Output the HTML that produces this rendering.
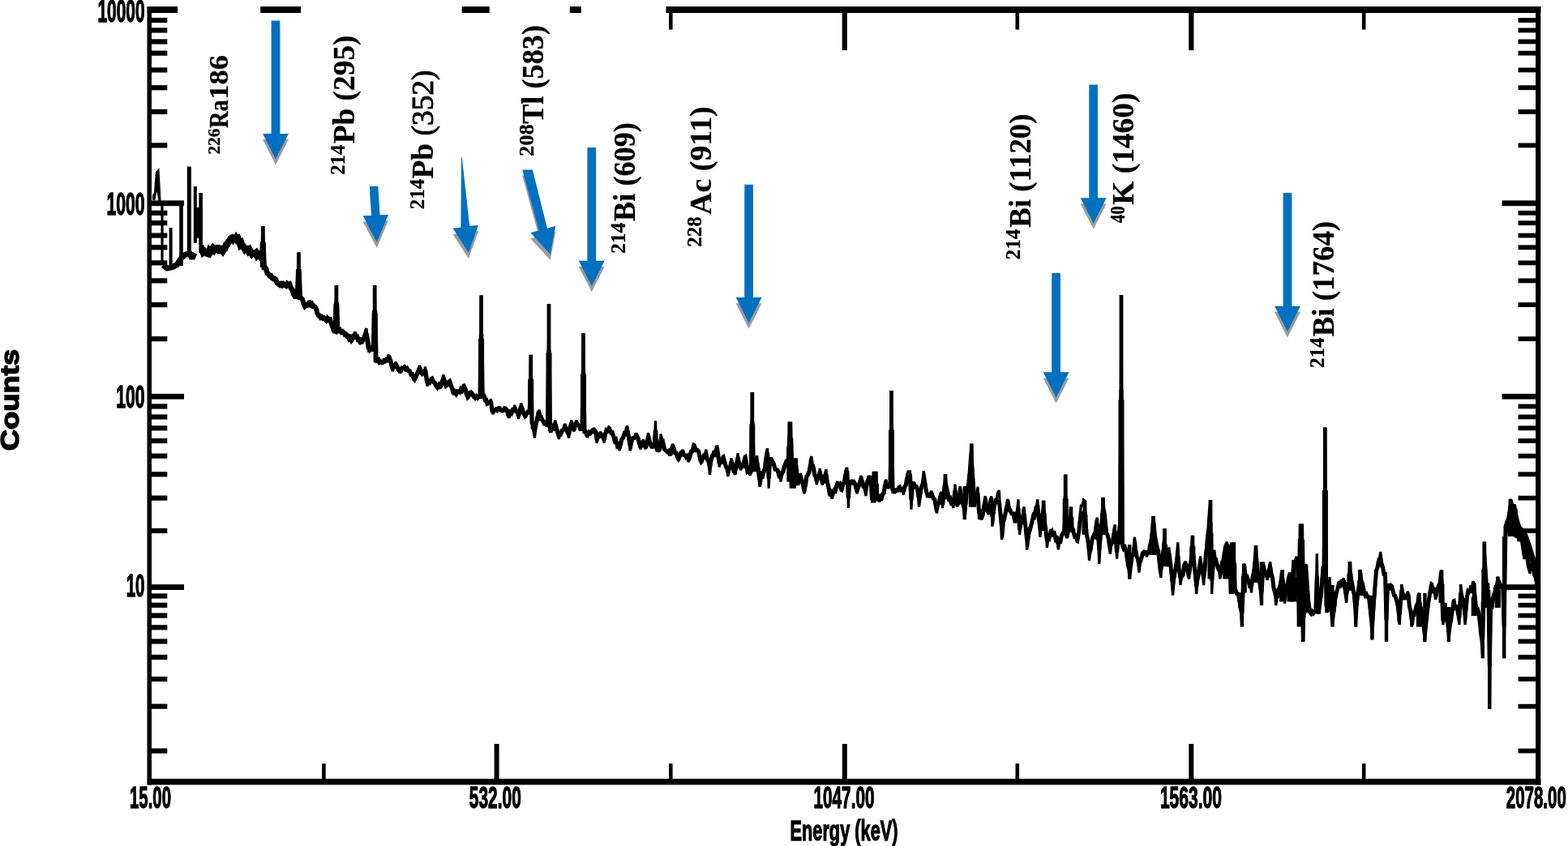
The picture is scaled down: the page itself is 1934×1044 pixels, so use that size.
<!DOCTYPE html>
<html lang="en"><head><meta charset="utf-8"><title>Gamma spectrum</title>
<style>html,body{margin:0;padding:0;background:#fff;overflow:hidden}svg{display:block}.s{font-family:"Liberation Serif",serif;font-weight:bold;fill:#000}.r{font-family:"Liberation Serif",serif;font-weight:normal;fill:#000}.a{font-family:"Liberation Sans",sans-serif;font-weight:bold;fill:#000}</style></head><body>
<svg width="1934" height="1044" viewBox="0 0 1934 1044">
<rect x="0" y="0" width="1934" height="1044" fill="#fff"/>
<g fill="none" stroke="#000" stroke-linejoin="miter" stroke-miterlimit="2" stroke-linecap="butt">
<path d="M200.0,251.0 L200.0,323.0" stroke-width="3.2"/>
<path d="M210.6,330.0 L210.6,281.0" stroke-width="4.0"/>
<path d="M223.5,251.0 L223.5,328.0" stroke-width="4.6"/>
<path d="M233.3,312.0 L233.3,205.5" stroke-width="5.0"/>
<path d="M240.8,300.0 L240.8,230.0" stroke-width="4.0"/>
<path d="M247.6,312.0 L247.6,238.0" stroke-width="4.6"/>
<path d="M201.0,327.0 L206.0,331.0 L212.0,330.0 L218.0,327.0 L224.0,318.0 L229.0,314.0 L234.0,313.0 L237.0,319.0 L240.0,312.0" stroke-width="7.0"/>
<path d="M248.0,309.0 L249.3,308.2 L250.7,311.9 L252.0,311.0 L253.3,313.3 L254.7,310.8 L256.0,313.0 L257.2,313.4 L258.5,309.3 L259.8,310.7 L261.0,309.0 L262.5,306.6 L264.0,308.5 L265.5,306.1 L267.0,306.0 L268.2,307.4 L269.5,306.9 L270.8,309.5 L272.0,309.5 L273.3,308.3 L274.7,310.0 L276.0,308.0 L277.5,306.8 L279.0,301.9 L280.5,301.2 L282.0,298.0 L283.3,297.3 L284.7,294.2 L286.0,293.5 L287.2,295.1 L288.5,292.6 L289.8,295.3 L291.0,293.5 L292.3,295.8 L293.7,294.7 L295.0,298.0 L296.3,301.8 L297.7,300.3 L299.0,304.0 L300.2,304.2 L301.5,306.6 L302.8,304.5 L304.0,307.0 L305.2,307.2 L306.5,309.7 L307.8,308.3 L309.0,310.5 L310.2,312.4 L311.5,310.3 L312.8,313.0 L314.0,313.0 L315.5,311.9 L317.0,315.2 L318.5,313.5 L320.0,315.0" stroke-width="8.2"/>
<path d="M318.0,314.8 L319.8,314.3 L321.5,316.0 L322.8,321.3 L324.3,298.4 L325.8,330.0 L326.6,330.0 L328.1,331.5 L329.5,337.0 L331.0,338.0 L332.6,340.3 L334.1,340.2 L335.7,343.0 L337.1,344.0 L338.6,343.7 L340.0,345.0 L341.8,349.1 L343.5,350.5 L345.0,351.6 L346.6,350.3 L348.1,352.0 L349.7,350.4 L351.2,351.7 L352.8,352.7 L354.3,350.2 L355.8,351.4 L357.4,351.1 L358.9,355.6 L360.5,357.4 L362.0,363.0 L363.3,365.0 L364.7,364.0 L366.0,365.9 L366.9,366.0 L368.4,332.2 L369.9,367.0 L370.8,367.0" stroke-width="6.4"/>
<path d="M318.0,314.0 L319.8,313.3 L321.5,316.0 L322.8,316.0 L324.3,279.0 L325.8,330.0 L326.6,330.0 L328.1,331.5 L329.5,337.0 L331.0,338.0 L332.6,340.5 L334.1,340.1 L335.7,343.0 L337.1,344.4 L338.6,343.4 L340.0,345.0 L341.8,349.1 L343.5,350.7 L345.0,352.4 L346.6,350.2 L348.1,352.8 L349.7,350.4 L351.2,352.3 L352.8,352.9 L354.3,348.9 L355.8,350.5 L357.4,349.0 L358.9,354.5 L360.5,357.4 L362.0,363.0 L363.3,365.7 L364.7,364.0 L366.0,366.0 L366.9,366.0 L368.4,311.5 L369.9,367.0 L370.8,367.0" stroke-width="3.6"/>
<path d="M370.8,367.0 L373.0,369.3 L374.5,374.4 L376.0,377.8 L377.6,376.0 L379.1,376.3 L380.7,373.8 L382.0,373.5 L383.3,376.0 L384.6,375.1 L385.9,377.8 L387.2,377.5 L388.5,378.6 L390.0,381.2 L391.5,386.8 L393.0,389.5 L394.3,389.6 L395.6,391.9 L396.9,391.4 L398.3,392.9 L399.6,392.3 L400.9,393.7 L402.4,395.3 L403.9,392.8 L405.5,394.6 L407.0,394.2 L408.6,399.3 L410.1,402.8 L411.7,407.4 L413.4,408.4 L414.9,373.3 L416.4,408.2 L418.0,408.6 L419.5,407.6 L421.0,409.9 L422.5,409.1 L424.0,410.6 L425.4,412.9 L426.7,412.6 L428.1,414.8 L429.4,414.7 L430.8,417.9 L432.1,416.7 L433.5,419.6 L435.0,417.6 L436.5,414.5 L438.0,413.5 L439.3,415.9 L440.5,415.8 L441.8,419.4 L443.0,419.5 L444.3,422.3 L445.5,419.9 L446.8,420.8 L448.0,418.7 L449.3,417.1 L450.5,413.1 L451.8,411.8 L453.2,419.6 L454.7,429.0 L456.0,431.3 L457.3,429.4 L458.6,430.0 L460.7,431.0 L462.2,382.8 L463.7,444.9 L465.6,445.5 L467.0,444.6 L468.3,446.9 L469.6,446.3" stroke-width="6.0"/>
<path d="M370.8,367.0 L373.0,369.3 L374.5,376.0 L376.0,380.0 L377.6,376.2 L379.1,376.5 L380.7,372.4 L382.0,371.9 L383.3,375.7 L384.6,374.1 L385.9,378.5 L387.2,376.8 L388.5,378.6 L390.0,381.2 L391.5,386.8 L393.0,389.5 L394.3,389.6 L395.6,392.4 L396.9,391.0 L398.3,393.3 L399.6,392.2 L400.9,394.0 L402.4,396.0 L403.9,392.1 L405.5,394.6 L407.0,394.0 L408.6,401.2 L410.1,403.8 L411.7,409.7 L413.4,409.7 L414.9,352.0 L416.4,408.0 L418.0,408.0 L419.5,406.3 L421.0,410.1 L422.5,408.5 L424.0,409.7 L425.4,413.3 L426.7,412.2 L428.1,415.8 L429.4,415.6 L430.8,420.6 L432.1,418.5 L433.5,422.0 L435.0,418.8 L436.5,412.1 L438.0,409.7 L439.3,413.5 L440.5,413.9 L441.8,419.8 L443.0,420.4 L444.3,425.0 L445.5,421.2 L446.8,422.5 L448.0,418.0 L449.3,415.1 L450.5,408.2 L451.8,405.2 L453.2,417.8 L454.7,433.0 L456.0,432.7 L457.3,429.0 L458.6,430.0 L460.7,430.0 L462.2,352.0 L463.7,445.5 L465.6,445.5 L467.0,444.0 L468.3,447.8 L469.6,446.8" stroke-width="3.4"/>
<path d="M468.3,446.9 L469.6,446.3 L471.0,447.4 L472.3,447.1 L473.7,445.0 L475.0,445.6 L476.4,443.9 L477.7,444.5 L479.1,441.4 L480.4,441.9 L481.7,445.2 L482.9,450.5 L484.2,454.7 L485.5,453.2 L486.8,450.6 L488.1,449.8 L489.7,451.8 L491.2,456.0 L492.8,457.7 L494.4,457.5 L495.9,454.2 L497.4,454.4 L499.0,453.3 L500.6,455.8 L502.1,454.9 L503.6,457.3 L505.2,458.0 L506.8,461.8 L508.3,461.7 L509.8,465.4 L511.4,466.4 L513.0,465.4 L514.5,461.0 L516.0,457.8 L517.6,454.1 L519.2,457.5 L520.7,462.3 L522.0,459.1 L523.3,459.0 L524.6,456.9 L526.9,472.5 L528.5,470.3 L530.0,471.6 L531.5,468.6 L533.1,468.2 L534.7,471.5 L536.2,472.4 L537.8,475.8 L539.3,477.0 L540.9,475.1 L542.4,478.3 L543.9,476.1 L545.5,470.7 L547.0,467.3 L548.6,470.6 L550.2,475.9 L551.8,474.8 L553.3,471.9 L554.9,471.5 L556.4,476.2 L558.0,480.2 L559.5,485.8 L561.0,483.7 L562.6,486.0 L564.2,483.1 L565.7,483.8 L567.1,484.2 L568.5,480.4 L569.9,481.8 L571.3,478.6 L572.7,478.1 L574.0,480.3 L575.3,485.9 L576.6,488.9 L578.1,488.4 L579.7,485.0 L581.2,485.2 L582.8,486.5 L584.3,489.6 L585.9,490.9 L587.4,489.1 L589.0,490.9 L590.5,489.0 L592.1,489.3 L593.6,412.9 L595.1,489.2 L597.3,489.3 L598.5,493.7 L599.7,493.5" stroke-width="5.4"/>
<path d="M468.3,447.8 L469.6,446.8 L471.0,448.6 L472.3,448.0 L473.7,445.0 L475.0,446.0 L476.4,442.6 L477.7,443.6 L479.1,438.6 L480.4,439.3 L481.7,444.7 L482.9,452.6 L484.2,458.0 L485.5,455.1 L486.8,449.4 L488.1,447.0 L489.7,450.3 L491.2,457.0 L492.8,459.5 L494.4,459.5 L495.9,454.2 L497.4,454.1 L499.0,451.0 L500.6,454.8 L502.1,453.4 L503.6,457.3 L505.2,458.0 L506.8,463.0 L508.3,462.8 L509.8,468.8 L511.4,470.4 L513.0,467.0 L514.5,459.8 L516.0,456.6 L517.6,451.0 L519.2,456.5 L520.7,464.2 L522.0,459.1 L523.3,458.5 L524.6,452.5 L526.9,476.6 L528.5,472.6 L530.0,472.2 L531.5,466.5 L533.1,465.7 L534.7,470.8 L536.2,472.3 L537.8,478.0 L539.3,479.8 L540.9,476.8 L542.4,479.7 L543.9,476.1 L545.5,467.4 L547.0,462.6 L548.6,468.1 L550.2,476.6 L551.8,474.8 L553.3,470.1 L554.9,468.8 L556.4,475.9 L558.0,480.2 L559.5,487.4 L561.0,484.1 L562.6,487.8 L564.2,483.1 L565.7,484.3 L567.1,484.3 L568.5,478.1 L569.9,480.3 L571.3,475.4 L572.7,475.0 L574.0,478.1 L575.3,487.1 L576.6,492.0 L578.1,490.6 L579.7,483.8 L581.2,482.8 L582.8,484.8 L584.3,489.8 L585.9,492.0 L587.4,489.2 L589.0,492.1 L590.5,489.0 L592.1,489.0 L593.6,364.5 L595.1,487.4 L597.3,487.4 L598.5,493.9 L599.7,493.3" stroke-width="3.2"/>
<path d="M598.5,493.7 L599.7,493.5 L600.9,497.7 L602.4,496.5 L604.0,496.6 L605.5,495.2 L607.0,506.8 L608.3,507.8 L609.6,504.6 L610.9,507.4 L612.2,503.9 L613.5,505.9 L614.8,504.1 L616.4,504.0 L617.9,506.5 L619.5,507.1 L620.8,506.7 L622.1,504.3 L623.4,504.5 L624.9,505.6 L626.5,511.1 L628.0,512.3 L629.4,508.8 L630.8,510.0 L632.2,506.4 L633.6,506.6 L635.0,503.6 L636.6,507.5 L638.1,508.7 L639.7,513.4 L641.2,506.2 L642.8,501.4 L644.3,504.6 L645.9,510.3 L647.4,512.3 L648.9,511.5 L650.5,509.1 L652.0,509.1 L653.2,509.1 L654.7,466.8 L656.2,523.2 L656.9,522.7 L658.2,525.1 L659.5,530.0 L661.2,523.5 L663.0,514.5 L665.3,512.5 L666.6,516.5 L667.9,516.2 L669.2,518.6 L670.7,521.4 L672.3,521.3 L673.8,524.2 L675.5,524.8 L677.0,431.9 L678.5,529.6 L680.2,529.7 L681.7,526.1 L683.2,527.7 L684.7,523.9 L686.2,527.4 L687.8,533.9 L689.3,537.8 L690.6,533.1 L691.9,535.4 L693.1,531.4 L694.4,531.0 L695.7,529.0 L697.0,526.4 L698.6,528.9 L700.1,534.0 L701.7,535.7 L703.3,527.2 L704.9,521.7 L706.5,527.6 L708.0,530.4 L709.5,524.5 L711.0,520.8 L712.6,524.2 L714.1,525.8 L715.7,529.5 L718.0,529.5 L719.5,457.4 L721.0,532.6 L722.2,532.6 L723.6,536.2 L725.0,536.4 L726.6,533.4 L728.1,534.4 L729.7,532.1 L731.0,531.1 L732.4,534.5 L733.7,531.7 L735.0,533.3 L736.0,542.4 L737.5,539.9 L739.1,537.7 L740.6,534.2 L742.1,538.5 L743.7,539.0 L745.2,542.8 L746.6,535.1 L748.0,531.0 L749.4,532.0 L750.8,530.6 L752.2,531.3 L753.7,534.2 L755.3,534.1 L756.8,538.8 L758.2,543.8 L759.6,542.6 L761.0,548.3 L762.4,547.8 L763.8,550.7 L765.4,548.6 L766.9,542.1 L768.5,540.1 L769.9,536.1 L771.2,537.5 L772.5,532.4 L773.9,531.1 L775.5,539.2 L777.0,549.4 L778.3,548.0 L779.6,542.0 L780.9,540.3 L782.5,540.3 L784.0,538.6 L785.6,538.6 L787.1,541.1 L788.7,547.7 L790.2,550.0 L791.8,547.3 L793.3,544.5 L794.8,549.3 L796.4,552.7 L798.0,545.4 L799.5,539.8 L800.8,542.4 L802.1,548.7 L803.4,550.5 L804.6,552.3 L805.8,549.8 L807.0,551.2 L808.5,530.6 L810.0,555.0 L811.8,553.8 L813.5,555.7 L815.0,542.5 L816.6,547.1 L818.1,547.8 L819.7,554.5 L821.3,555.9 L822.8,557.2 L824.4,556.5 L825.9,560.1 L827.2,559.9 L828.5,553.6 L829.8,552.2 L831.2,553.8 L832.6,558.8 L834.0,559.0 L835.4,563.5 L836.8,564.7 L838.3,563.5 L839.9,558.6 L841.4,558.1 L842.7,559.3 L844.0,562.8 L845.3,560.6 L846.6,564.0 L847.9,562.9 L849.2,566.1 L850.8,564.2 L852.3,557.7 L853.9,556.8 L855.4,551.4 L856.9,551.8 L858.5,555.5 L860.0,555.4 L861.6,557.1 L863.1,564.0 L864.7,567.7 L866.2,566.9 L867.8,563.5 L869.4,563.9 L870.9,559.8 L872.4,567.3 L874.0,568.5 L875.5,576.4 L877.0,568.1 L878.6,562.4 L880.1,560.4 L881.7,563.6 L883.2,555.9 L884.8,555.2 L887.2,571.5 L888.6,568.8 L889.9,571.7 L891.2,567.1 L892.6,567.7 L894.0,570.7 L895.3,575.8 L896.6,576.8 L898.0,583.6 L899.3,578.3 L900.6,576.9 L901.9,570.1 L903.5,572.8 L905.0,581.3 L906.6,582.2 L908.3,574.8 L910.0,564.8 L911.8,572.1 L913.5,578.2 L915.1,574.1 L916.6,574.8 L918.2,567.8 L919.8,567.1 L922.0,581.8 L923.4,580.8 L924.9,583.3 L926.3,581.8 L927.8,520.1 L929.3,579.7 L930.8,579.7 L932.2,573.5 L933.7,570.1 L935.2,579.0 L936.8,592.0 L938.2,590.2 L939.5,585.1 L940.9,586.2 L942.3,581.2 L943.6,577.3 L944.8,566.4 L946.1,560.8 L946.7,560.8 L948.2,590.6 L949.7,567.5 L951.6,567.5 L953.1,570.7 L954.7,573.9 L956.2,579.4 L957.8,579.8 L959.1,580.2 L960.5,585.2 L961.9,584.9 L963.2,588.7 L964.6,583.1 L965.9,582.1 L967.2,576.2 L968.6,575.3 L969.8,569.7 L971.1,573.2 L972.3,571.3 L973.8,539.4 L975.3,591.5 L975.7,540.5 L977.2,591.5 L978.7,572.6 L980.3,597.6 L981.8,574.5 L983.3,596.6 L984.2,596.6 L985.8,592.0 L987.3,588.9 L988.8,592.0 L990.4,598.3 L991.9,601.5 L993.5,598.5 L995.0,587.7 L996.6,585.4 L998.0,582.7 L999.5,574.6 L1000.9,572.4 L1002.2,577.8 L1003.5,577.9 L1004.8,586.2 L1006.1,587.5 L1007.4,594.1 L1008.7,588.2 L1010.0,588.0 L1011.3,581.9 L1012.8,589.4 L1014.4,594.9 L1015.9,594.1 L1017.5,587.1 L1019.0,585.6 L1020.3,594.9 L1021.7,599.8 L1023.0,607.4 L1024.5,606.5 L1026.1,609.5 L1027.6,607.4 L1028.9,604.9 L1030.3,605.8 L1031.7,600.1 L1033.0,598.3 L1034.4,598.6 L1035.8,597.4 L1037.1,602.2 L1038.5,602.7 L1039.8,597.3 L1041.2,595.6 L1042.6,587.7 L1043.9,584.7 L1044.9,584.3 L1046.4,614.7 L1047.9,594.4 L1049.2,596.5 L1050.6,593.2 L1051.9,595.6 L1053.2,594.8 L1054.5,596.8 L1055.8,601.9 L1057.1,604.7 L1058.7,601.2 L1060.2,596.0 L1061.8,592.6 L1063.3,594.0 L1064.9,600.0 L1066.5,600.1 L1068.0,604.7 L1069.5,595.0 L1071.0,591.5 L1072.6,592.8 L1074.2,591.5 L1075.7,617.2 L1077.2,594.3 L1078.9,618.5 L1080.4,594.6 L1081.9,616.5 L1083.3,615.0 L1084.7,617.7 L1086.0,613.2 L1087.4,614.3 L1088.8,609.6 L1090.1,608.5 L1091.5,599.7 L1092.8,598.0 L1094.4,600.5 L1096.0,600.9 L1098.0,599.8 L1099.5,527.0 L1101.0,605.8 L1102.3,603.7 L1103.7,606.6 L1105.2,603.8 L1106.8,606.6 L1108.4,602.4 L1109.9,601.9 L1111.4,604.5 L1113.0,603.6 L1114.5,606.7 L1115.9,600.4 L1117.2,598.9 L1118.6,591.2 L1120.0,588.8 L1122.5,588.0 L1124.0,617.0 L1125.5,598.1 L1127.0,595.9 L1128.5,600.1 L1130.0,598.9" stroke-width="5.2"/>
<path d="M598.5,493.9 L599.7,493.3 L600.9,500.0 L602.4,496.5 L604.0,496.6 L605.5,492.3 L607.0,509.3 L608.3,510.7 L609.6,505.6 L610.9,508.4 L612.2,502.7 L613.5,505.9 L614.8,503.0 L616.4,503.1 L617.9,507.0 L619.5,507.8 L620.8,507.2 L622.1,502.6 L623.4,503.0 L624.9,504.7 L626.5,513.5 L628.0,515.5 L629.4,509.8 L630.8,511.5 L632.2,504.5 L633.6,504.8 L635.0,500.0 L636.6,507.5 L638.1,509.5 L639.7,517.0 L641.2,505.3 L642.8,497.7 L644.3,502.8 L645.9,512.3 L647.4,515.5 L648.9,514.2 L650.5,507.1 L652.0,506.0 L653.2,506.0 L654.7,437.8 L656.2,528.0 L656.9,528.0 L658.2,532.8 L659.5,540.4 L661.2,526.4 L663.0,509.3 L665.3,506.0 L666.6,512.4 L667.9,513.1 L669.2,518.6 L670.7,523.1 L672.3,521.3 L673.8,524.9 L675.5,524.9 L677.0,375.0 L678.5,532.6 L680.2,532.6 L681.7,526.1 L683.2,524.6 L684.7,518.6 L686.2,524.2 L687.8,535.5 L689.3,542.0 L690.6,536.4 L691.9,538.2 L693.1,531.4 L694.4,530.8 L695.7,525.1 L697.0,523.3 L698.6,527.7 L700.1,535.9 L701.7,540.4 L703.3,526.9 L704.9,518.6 L706.5,528.0 L708.0,532.6 L709.5,523.0 L711.0,518.6 L712.6,524.1 L714.1,524.4 L715.7,529.5 L718.0,529.5 L719.5,411.3 L721.0,532.6 L722.2,532.6 L723.6,538.4 L725.0,538.8 L726.6,534.0 L728.1,535.6 L729.7,531.0 L731.0,529.0 L732.4,534.5 L733.7,530.0 L735.0,532.6 L736.0,546.6 L737.5,540.9 L739.1,538.3 L740.6,532.6 L742.1,539.6 L743.7,540.4 L745.2,546.6 L746.6,536.7 L748.0,530.0 L749.4,531.6 L750.8,526.9 L752.2,528.0 L753.7,532.6 L755.3,532.5 L756.8,538.8 L758.2,544.9 L759.6,543.0 L761.0,552.1 L762.4,551.3 L763.8,555.9 L765.4,552.5 L766.9,542.1 L768.5,538.8 L769.9,532.4 L771.2,534.7 L772.5,527.5 L773.9,525.6 L775.5,539.2 L777.0,555.9 L778.3,553.4 L779.6,543.4 L780.9,540.4 L782.5,540.2 L784.0,535.7 L785.6,535.7 L787.1,539.7 L788.7,551.2 L790.2,554.3 L791.8,550.0 L793.3,542.0 L794.8,549.3 L796.4,554.3 L798.0,543.0 L799.5,534.2 L800.8,538.4 L802.1,548.5 L803.4,551.2 L804.6,553.0 L805.8,548.9 L807.0,551.2 L808.5,519.4 L810.0,557.4 L811.8,555.4 L813.5,557.4 L815.0,535.7 L816.6,542.0 L818.1,542.8 L819.7,553.7 L821.3,555.9 L822.8,559.4 L824.4,556.9 L825.9,562.0 L827.2,560.6 L828.5,550.4 L829.8,548.0 L831.2,550.5 L832.6,558.8 L834.0,559.1 L835.4,566.4 L836.8,568.3 L838.3,566.2 L839.9,557.7 L841.4,555.9 L842.7,556.1 L844.0,561.6 L845.3,560.0 L846.6,566.4 L847.9,564.7 L849.2,569.9 L850.8,566.7 L852.3,556.3 L853.9,556.7 L855.4,548.0 L856.9,548.9 L858.5,554.7 L860.0,554.7 L861.6,557.1 L863.1,568.2 L864.7,571.7 L866.2,570.3 L867.8,561.1 L869.4,561.3 L870.9,554.7 L872.4,567.3 L874.0,572.3 L875.5,585.7 L877.0,572.3 L878.6,562.4 L880.1,556.1 L881.7,559.8 L883.2,551.2 L884.8,550.8 L887.2,576.4 L888.6,569.8 L889.9,572.8 L891.2,563.6 L892.6,562.4 L894.0,567.3 L895.3,577.6 L896.6,579.3 L898.0,588.0 L899.3,579.4 L900.6,576.5 L901.9,565.5 L903.5,569.8 L905.0,582.5 L906.6,585.7 L908.3,574.8 L910.0,559.3 L911.8,571.0 L913.5,580.3 L915.1,573.7 L916.6,574.8 L918.2,563.5 L919.8,562.4 L922.0,584.2 L923.4,582.5 L924.9,586.5 L926.3,584.2 L927.8,484.0 L929.3,578.0 L930.8,578.0 L932.2,568.0 L933.7,562.4 L935.2,579.0 L936.8,600.5 L938.2,597.6 L939.5,588.9 L940.9,590.5 L942.3,582.6 L943.6,576.2 L944.8,560.4 L946.1,554.7 L946.7,554.7 L948.2,602.8 L949.7,565.5 L951.6,565.5 L953.1,570.6 L954.7,570.8 L956.2,578.9 L957.8,579.5 L959.1,580.2 L960.5,588.6 L961.9,588.2 L963.2,594.3 L964.6,585.3 L965.9,583.7 L967.2,573.8 L968.6,570.2 L969.8,567.2 L971.1,573.2 L972.3,570.2 L973.8,520.5 L975.3,602.8 L975.7,520.5 L977.2,602.8 L978.7,565.5 L980.3,602.8 L981.8,565.5 L983.3,596.6 L984.2,596.6 L985.8,589.2 L987.3,584.2 L988.8,589.1 L990.4,603.5 L991.9,609.0 L993.5,604.2 L995.0,589.9 L996.6,584.2 L998.0,579.8 L999.5,566.8 L1000.9,563.2 L1002.2,572.0 L1003.5,574.0 L1004.8,587.5 L1006.1,587.6 L1007.4,598.1 L1008.7,588.6 L1010.0,588.2 L1011.3,578.0 L1012.8,589.8 L1014.4,598.1 L1015.9,595.5 L1017.5,584.2 L1019.0,579.5 L1020.3,591.9 L1021.7,599.8 L1023.0,612.0 L1024.5,610.6 L1026.1,615.4 L1027.6,612.0 L1028.9,604.9 L1030.3,606.2 L1031.7,597.0 L1033.0,594.3 L1034.4,598.6 L1035.8,597.4 L1037.1,605.2 L1038.5,605.9 L1039.8,597.4 L1041.2,594.5 L1042.6,581.7 L1043.9,578.0 L1044.9,578.0 L1046.4,627.0 L1047.9,594.3 L1049.2,597.7 L1050.6,591.8 L1051.9,595.6 L1053.2,594.3 L1054.5,597.6 L1055.8,605.8 L1057.1,609.0 L1058.7,603.4 L1060.2,592.9 L1061.8,587.3 L1063.3,589.7 L1064.9,601.1 L1066.5,604.5 L1068.0,612.0 L1069.5,598.2 L1071.0,587.3 L1072.6,589.4 L1074.2,587.3 L1075.7,620.4 L1077.2,581.8 L1078.9,620.4 L1080.4,581.8 L1081.9,617.2 L1083.3,614.8 L1084.7,619.4 L1086.0,615.4 L1087.4,617.2 L1088.8,609.6 L1090.1,607.8 L1091.5,594.7 L1092.8,592.0 L1094.4,597.4 L1096.0,598.0 L1098.0,598.0 L1099.5,482.0 L1101.0,609.0 L1102.3,605.6 L1103.7,609.0 L1105.2,602.8 L1106.8,607.3 L1108.4,600.5 L1109.9,599.7 L1111.4,605.5 L1113.0,605.4 L1114.5,610.5 L1115.9,600.4 L1117.2,598.0 L1118.6,586.0 L1120.0,581.8 L1122.5,581.8 L1124.0,628.6 L1125.5,598.1 L1127.0,594.5 L1128.5,600.1 L1130.0,598.1" stroke-width="3.2"/>
<path d="M1130.0,598.9 L1131.8,605.0 L1133.5,615.9 L1135.0,609.8 L1136.4,601.2 L1137.8,598.4 L1139.3,591.4 L1140.9,596.1 L1142.4,605.9 L1144.0,611.3 L1145.5,610.6 L1147.0,613.5 L1148.5,608.8 L1150.0,611.4 L1151.4,615.3 L1152.8,616.1 L1154.2,624.5 L1155.6,626.8 L1156.9,621.8 L1158.3,620.0 L1159.7,612.8 L1161.0,611.0 L1162.6,622.9 L1164.3,607.3 L1166.0,596.4 L1167.5,605.4 L1168.9,607.7 L1170.4,615.6 L1171.8,614.7 L1173.1,620.9 L1174.5,618.6 L1175.8,622.9 L1178.0,604.7 L1180.4,623.7 L1181.7,621.7 L1183.0,612.9 L1184.3,608.8 L1185.7,612.3 L1187.0,622.3 L1188.4,620.5 L1189.8,628.1 L1191.1,621.5 L1192.3,608.4 L1193.6,602.0 L1195.2,596.1 L1196.7,581.1 L1198.3,570.9 L1202.2,620.0 L1203.5,615.8 L1204.7,614.9 L1206.0,608.4 L1207.6,633.4 L1209.2,632.1 L1210.7,635.3 L1212.3,634.8 L1213.7,624.3 L1215.0,619.1 L1216.4,623.0 L1217.8,630.1 L1219.2,632.8 L1220.4,627.2 L1221.6,619.3 L1222.8,614.5 L1223.9,637.7 L1225.2,632.9 L1226.5,623.5 L1227.8,619.0 L1229.3,618.2 L1230.9,619.8 L1232.4,618.7 L1235.5,649.8 L1236.9,646.7 L1238.3,637.4 L1239.7,635.9 L1241.1,627.5 L1242.5,623.7 L1243.8,624.7 L1245.1,630.0 L1246.4,630.3 L1248.0,634.5 L1249.5,632.1 L1251.0,639.9 L1252.6,641.1 L1254.3,634.2 L1256.0,626.8 L1257.6,653.8 L1259.0,646.3 L1260.4,645.0 L1261.8,636.5 L1263.2,634.5 L1264.9,649.1 L1266.6,666.6 L1268.1,661.3 L1269.7,653.1 L1271.2,650.7 L1272.8,644.2 L1274.2,638.1 L1275.6,638.5 L1277.0,632.3 L1278.4,628.6 L1279.8,623.3 L1281.3,639.9 L1282.9,652.2 L1284.3,646.1 L1285.8,635.0 L1287.2,630.0 L1288.6,645.0 L1290.0,654.2 L1291.4,668.0 L1292.9,661.3 L1294.5,661.9 L1296.0,656.6 L1297.6,657.9 L1299.1,661.9 L1300.7,659.1 L1302.3,665.8 L1303.8,664.6 L1305.4,671.1 L1306.8,666.8 L1308.1,667.6 L1309.5,660.5 L1310.8,659.0 L1312.7,657.5 L1314.2,612.5 L1315.7,660.4 L1316.4,660.4 L1317.9,651.7 L1319.4,647.1 L1320.9,637.3 L1322.5,656.6 L1323.9,655.5 L1325.3,661.8 L1326.6,658.9 L1328.0,663.2 L1329.4,663.6 L1330.7,656.4 L1332.0,643.5 L1333.3,637.6 L1334.9,637.6 L1336.4,633.1 L1338.0,633.7 L1340.3,659.7 L1341.9,667.3 L1343.5,679.5 L1344.8,673.8 L1346.2,671.2 L1347.5,664.0 L1348.8,661.3 L1350.4,662.3 L1351.9,651.1 L1353.5,646.7 L1355.8,678.8 L1360.5,627.9 L1361.8,636.2 L1363.2,643.8 L1364.6,657.7 L1365.9,659.7 L1367.7,666.3 L1369.4,674.5 L1370.9,670.6 L1372.3,668.8 L1373.8,659.2 L1375.2,655.5 L1377.6,681.8 L1380.0,657.2 L1381.5,658.4 L1383.0,481.1 L1384.5,673.2 L1386.0,677.1 L1387.6,675.3 L1389.0,680.1 L1390.4,690.7 L1391.8,693.4 L1393.2,701.6 L1394.7,698.0 L1396.2,686.2 L1397.8,684.7 L1399.3,674.4 L1400.7,678.8 L1402.2,686.9 L1403.6,690.5 L1405.0,698.1 L1406.4,690.6 L1407.9,689.1 L1409.3,682.9 L1410.6,682.1 L1411.9,684.2 L1413.2,680.2 L1414.4,684.7 L1415.7,680.6 L1417.0,682.8 L1418.4,673.2 L1419.8,669.8 L1421.1,658.7 L1422.5,652.8 L1424.1,658.7 L1425.6,667.8 L1427.2,675.3 L1428.7,680.0 L1430.3,694.4 L1431.8,703.5 L1436.5,668.1 L1438.8,698.8 L1440.3,692.9 L1441.9,682.5 L1443.5,693.8 L1445.0,707.7 L1446.6,720.5 L1452.8,686.0 L1454.3,702.8 L1455.9,712.8 L1457.4,707.3 L1459.0,710.8 L1460.5,698.0 L1462.0,694.8 L1463.6,697.4 L1465.1,705.8 L1466.7,708.2 L1468.1,698.3 L1469.5,688.9 L1470.9,675.1 L1475.7,723.7 L1477.0,714.4 L1478.2,709.5 L1479.5,698.8 L1480.7,694.1 L1482.0,702.4 L1483.3,705.1 L1484.6,713.5 L1485.9,704.0 L1487.2,685.9 L1488.5,677.0 L1490.0,670.0 L1491.5,652.7 L1493.0,644.6 L1494.7,716.5 L1496.2,697.8 L1497.8,687.8 L1499.2,694.6 L1500.6,694.7 L1502.0,700.3 L1503.4,701.4 L1504.8,705.5 L1506.2,701.2 L1507.6,693.4 L1508.9,691.1 L1510.3,682.1 L1511.7,679.5 L1513.0,671.7 L1514.4,675.2 L1515.7,674.0 L1517.2,711.5 L1518.7,672.0 L1520.3,731.1 L1521.8,692.9 L1523.3,731.4 L1524.6,729.9 L1526.0,733.8 L1527.3,731.4 L1528.8,742.3 L1530.4,746.1 L1531.9,757.4 L1534.3,707.0 L1535.7,709.0 L1537.0,715.3 L1538.3,712.7 L1539.7,716.7 L1541.0,719.9 L1542.3,718.3 L1543.6,723.5 L1544.9,713.0 L1546.3,707.2 L1547.7,698.1 L1549.0,692.1 L1556.0,731.2 L1558.3,698.0 L1559.9,704.9 L1561.4,705.8 L1563.0,712.3 L1564.3,710.7 L1565.5,703.0 L1566.8,700.0 L1568.2,708.6 L1569.6,713.6 L1571.0,725.9 L1572.4,728.2 L1573.8,736.8 L1575.1,730.8 L1576.4,731.8 L1577.7,725.9 L1579.0,723.7 L1580.3,716.0 L1581.6,713.0 L1583.2,721.6 L1584.7,736.7 L1586.2,726.8 L1587.8,725.4 L1589.4,712.9 L1590.9,709.0 L1592.5,731.1 L1594.0,712.8 L1595.6,699.3 L1597.2,699.5 L1598.7,689.9 L1600.3,692.6 L1601.8,743.6 L1603.3,665.0 L1603.4,743.6 L1604.9,665.8 L1606.4,756.0 L1606.5,665.8 L1608.0,761.8 L1609.5,713.3 L1611.0,718.7 L1612.6,728.2 L1614.1,745.2 L1615.7,755.7 L1617.1,757.2 L1618.5,754.7 L1620.0,756.6 L1621.4,754.8 L1622.8,755.7 L1624.3,710.5 L1625.8,755.3 L1626.6,755.3 L1628.1,742.5 L1629.5,735.0 L1631.0,713.3 L1632.9,708.7 L1634.4,606.4 L1635.9,747.2 L1637.5,754.6 L1640.0,721.9 L1643.5,766.2 L1644.8,751.4 L1646.1,747.5 L1647.4,732.0 L1648.7,730.6 L1650.0,726.1 L1651.5,723.2 L1652.9,725.0 L1654.4,719.0 L1655.8,719.4 L1657.3,715.9 L1659.0,727.0 L1660.7,733.9 L1662.1,722.4 L1663.6,716.6 L1665.0,705.2 L1666.3,715.8 L1667.7,720.2 L1669.0,727.4 L1670.6,735.0 L1672.2,751.2 L1677.5,714.0 L1678.8,717.0 L1680.1,723.6 L1681.4,724.5 L1682.7,732.0 L1684.0,735.0 L1685.4,733.5 L1686.9,737.2 L1688.3,735.0 L1689.7,748.5 L1691.0,755.5 L1692.4,768.7 L1697.6,703.7 L1698.9,700.9 L1700.2,693.8 L1701.5,693.4 L1702.8,688.6 L1704.2,698.2 L1705.6,700.3 L1707.0,708.6 L1708.5,708.6 L1710.0,765.3 L1711.5,722.8 L1713.1,722.4 L1714.7,725.8 L1716.2,726.7 L1717.8,728.2 L1719.4,734.6 L1720.9,735.4 L1722.5,740.6 L1723.8,744.0 L1725.0,754.2 L1726.3,758.9 L1728.7,727.9 L1730.2,732.6 L1731.8,739.7 L1733.2,735.8 L1734.5,739.4 L1735.8,733.6 L1737.2,734.9 L1738.5,748.8 L1739.7,752.9 L1741.0,763.5 L1742.3,761.9 L1743.7,756.1 L1745.0,755.9 L1746.4,750.5 L1747.7,750.8 L1749.1,743.6 L1750.4,742.5 L1757.4,769.9 L1765.1,723.8 L1766.5,724.3 L1767.8,727.6 L1769.2,727.5 L1770.6,733.0 L1772.1,730.4 L1773.6,725.4 L1775.0,725.2 L1776.5,718.1 L1778.0,717.3 L1779.9,766.5 L1781.5,760.5 L1783.0,751.0 L1784.3,762.4 L1785.6,768.9 L1786.9,779.6 L1788.2,770.9 L1789.6,765.6 L1791.0,755.3 L1792.3,749.3 L1793.9,748.6 L1795.4,750.2 L1797.0,749.2 L1798.5,757.3 L1800.0,762.6 L1801.6,731.6 L1803.2,738.5 L1804.7,739.7 L1807.0,759.0 L1808.3,749.9 L1809.6,735.9 L1810.9,729.3 L1812.4,730.2 L1813.8,728.9 L1815.3,731.2 L1816.7,725.9 L1818.2,727.1 L1820.2,746.3 L1821.5,752.3 L1822.7,752.1 L1824.0,757.0 L1825.6,770.2 L1827.2,776.4 L1828.8,789.5 L1830.8,700.3 L1832.5,716.8 L1834.2,732.0 L1835.8,728.2 L1837.3,822.4 L1838.8,740.2 L1841.0,740.0 L1842.3,733.9 L1843.6,731.9 L1844.8,724.2 L1846.1,723.9 L1847.4,716.5 L1848.7,721.2 L1850.0,720.5 L1851.3,724.0 L1853.7,722.4 L1855.2,774.0 L1857.0,650.0 L1858.5,645.2 L1860.0,643.3 L1861.5,635.8 L1863.0,626.5 L1864.3,637.5 L1865.5,643.6 L1866.8,655.0 L1868.4,648.7 L1870.0,636.2 L1871.5,650.1 L1873.0,663.5 L1874.5,658.4 L1876.0,657.0 L1877.3,667.2 L1878.7,675.5 L1880.0,685.3 L1882.3,682.3 L1883.9,688.2 L1885.4,698.4 L1887.0,704.3 L1888.5,698.8 L1890.0,695.6 L1891.2,697.5 L1892.5,708.9 L1893.8,710.0 L1895.0,716.7 L1897.0,705.0" stroke-width="5.0"/>
<path d="M1130.0,598.1 L1131.8,607.9 L1133.5,625.5 L1135.0,615.8 L1136.4,601.2 L1137.8,594.7 L1139.3,581.3 L1140.9,590.2 L1142.4,604.3 L1144.0,613.0 L1145.5,610.6 L1147.0,613.9 L1148.5,605.7 L1150.0,608.5 L1151.4,616.2 L1152.8,617.5 L1154.2,629.6 L1155.6,633.3 L1156.9,624.4 L1158.3,621.6 L1159.7,610.0 L1161.0,607.0 L1162.6,627.0 L1164.3,602.8 L1166.0,585.2 L1167.5,599.7 L1168.9,603.5 L1170.4,616.2 L1171.8,614.7 L1173.1,623.7 L1174.5,620.1 L1175.8,627.0 L1178.0,597.6 L1180.4,625.5 L1181.7,620.8 L1183.0,606.7 L1184.3,600.0 L1185.7,607.1 L1187.0,623.2 L1188.4,627.5 L1189.8,641.0 L1191.1,630.3 L1192.3,609.1 L1193.6,597.6 L1195.2,584.0 L1196.7,562.6 L1198.3,547.5 L1202.2,625.5 L1203.5,615.8 L1204.7,611.1 L1206.0,600.7 L1207.6,641.0 L1209.2,636.2 L1210.7,641.3 L1212.3,638.0 L1213.7,621.1 L1215.0,612.3 L1216.4,615.8 L1217.8,630.1 L1219.2,634.9 L1220.4,629.5 L1221.6,618.2 L1222.8,612.3 L1223.9,649.6 L1225.2,642.0 L1226.5,623.5 L1227.8,616.2 L1229.3,614.9 L1230.9,607.2 L1232.4,605.4 L1235.5,665.9 L1236.9,660.2 L1238.3,644.2 L1239.7,640.4 L1241.1,624.6 L1242.5,616.2 L1243.8,617.8 L1245.1,626.3 L1246.4,628.6 L1248.0,635.9 L1249.5,632.1 L1251.0,644.1 L1252.6,644.2 L1254.3,633.2 L1256.0,616.2 L1257.6,659.7 L1259.0,647.5 L1260.4,645.0 L1261.8,629.7 L1263.2,625.5 L1264.9,649.1 L1266.6,678.3 L1268.1,671.3 L1269.7,658.5 L1271.2,654.7 L1272.8,644.2 L1274.2,634.4 L1275.6,635.0 L1277.0,625.8 L1278.4,624.7 L1279.8,616.2 L1281.3,642.9 L1282.9,662.8 L1284.3,649.9 L1285.8,630.2 L1287.2,617.8 L1288.6,639.9 L1290.0,654.2 L1291.4,676.0 L1292.9,665.2 L1294.5,666.1 L1296.0,655.0 L1297.6,653.5 L1299.1,659.3 L1300.7,655.0 L1302.3,665.8 L1303.8,667.9 L1305.4,678.3 L1306.8,669.2 L1308.1,670.5 L1309.5,659.0 L1310.8,656.6 L1312.7,656.6 L1314.2,585.5 L1315.7,662.8 L1316.4,662.8 L1317.9,648.7 L1319.4,641.2 L1320.9,625.5 L1322.5,656.6 L1323.9,654.8 L1325.3,665.1 L1326.6,661.4 L1328.0,668.3 L1329.4,669.0 L1330.7,656.4 L1332.0,635.6 L1333.3,624.0 L1334.9,624.0 L1336.4,616.8 L1338.0,617.8 L1340.3,659.7 L1341.9,671.9 L1343.5,691.7 L1344.8,682.4 L1346.2,678.2 L1347.5,664.0 L1348.8,659.7 L1350.4,656.3 L1351.9,643.1 L1353.5,638.7 L1355.8,695.9 L1360.5,613.9 L1361.8,627.2 L1363.2,634.1 L1364.6,650.9 L1365.9,659.7 L1367.7,674.2 L1369.4,683.5 L1370.9,671.7 L1372.3,668.8 L1373.8,653.4 L1375.2,647.3 L1377.6,689.7 L1380.0,650.0 L1381.5,650.0 L1383.0,364.0 L1384.5,672.1 L1386.0,675.0 L1387.6,672.1 L1389.0,680.6 L1390.4,697.7 L1391.8,701.9 L1393.2,714.5 L1394.7,705.6 L1396.2,685.8 L1397.8,679.4 L1399.3,662.8 L1400.7,670.6 L1402.2,686.9 L1403.6,693.3 L1405.0,706.6 L1406.4,694.5 L1407.9,692.2 L1409.3,681.7 L1410.6,680.4 L1411.9,684.2 L1413.2,679.2 L1414.4,687.2 L1415.7,680.7 L1417.0,684.9 L1418.4,669.9 L1419.8,664.4 L1421.1,646.5 L1422.5,637.0 L1424.1,646.5 L1425.6,666.5 L1427.2,678.6 L1428.7,688.3 L1430.3,704.1 L1431.8,712.8 L1436.5,652.3 L1438.8,698.8 L1440.3,689.3 L1441.9,675.5 L1443.5,693.8 L1445.0,716.3 L1446.6,734.5 L1452.8,669.3 L1454.3,697.7 L1455.9,722.0 L1457.4,713.2 L1459.0,711.1 L1460.5,697.8 L1462.0,692.6 L1463.6,696.8 L1465.1,710.3 L1466.7,714.3 L1468.1,698.3 L1469.5,675.7 L1470.9,660.8 L1475.7,733.0 L1477.0,719.1 L1478.2,711.3 L1479.5,693.9 L1480.7,686.4 L1482.0,699.7 L1483.3,708.4 L1484.6,722.0 L1485.9,706.7 L1487.2,680.9 L1488.5,663.0 L1490.0,651.9 L1491.5,630.1 L1493.0,617.0 L1494.7,733.0 L1496.2,702.7 L1497.8,678.6 L1499.2,689.6 L1500.6,689.7 L1502.0,703.2 L1503.4,704.8 L1504.8,714.3 L1506.2,708.3 L1507.6,695.7 L1508.9,691.1 L1510.3,676.5 L1511.7,672.4 L1513.0,668.7 L1514.4,674.4 L1515.7,672.4 L1517.2,733.0 L1518.7,669.3 L1520.3,733.0 L1521.8,669.3 L1523.3,731.4 L1524.6,728.0 L1526.0,734.4 L1527.3,731.4 L1528.8,749.0 L1530.4,755.2 L1531.9,773.3 L1534.3,695.7 L1535.7,698.8 L1537.0,710.7 L1538.3,708.9 L1539.7,719.0 L1541.0,725.6 L1542.3,722.9 L1543.6,731.4 L1544.9,713.0 L1546.3,703.7 L1547.7,685.2 L1549.0,673.2 L1556.0,747.0 L1558.3,693.4 L1559.9,704.6 L1561.4,705.4 L1563.0,715.9 L1564.3,710.7 L1565.5,698.3 L1566.8,693.4 L1568.2,706.4 L1569.6,712.2 L1571.0,729.4 L1572.4,733.1 L1573.8,747.0 L1575.1,737.3 L1576.4,736.8 L1577.7,723.8 L1579.0,720.2 L1580.3,706.9 L1581.6,703.5 L1583.2,720.2 L1584.7,744.6 L1586.2,730.8 L1587.8,728.6 L1589.4,712.9 L1590.9,706.6 L1592.5,742.3 L1594.0,712.8 L1595.6,691.0 L1597.2,695.2 L1598.7,686.7 L1600.3,691.0 L1601.8,773.3 L1603.3,646.5 L1603.4,773.3 L1604.9,646.5 L1606.4,792.0 L1606.5,646.5 L1608.0,792.0 L1609.5,697.3 L1611.0,697.3 L1612.6,712.6 L1614.1,739.3 L1615.7,756.2 L1617.1,758.7 L1618.5,753.7 L1620.0,757.7 L1621.4,754.8 L1622.8,756.2 L1624.3,683.3 L1625.8,756.2 L1626.6,756.2 L1628.1,735.1 L1629.5,723.0 L1631.0,700.0 L1632.9,700.0 L1634.4,527.5 L1635.9,754.7 L1637.5,754.7 L1640.0,712.0 L1643.5,773.3 L1644.8,759.5 L1646.1,754.5 L1647.4,738.2 L1648.7,735.9 L1650.0,722.0 L1651.5,717.3 L1652.9,720.2 L1654.4,715.3 L1655.8,717.8 L1657.3,713.3 L1659.0,732.9 L1660.7,743.8 L1662.1,725.2 L1663.6,711.3 L1665.0,693.0 L1666.3,707.9 L1667.7,714.9 L1669.0,728.8 L1670.6,747.4 L1672.2,773.4 L1677.5,703.2 L1678.8,707.4 L1680.1,718.1 L1681.4,719.4 L1682.7,731.6 L1684.0,735.0 L1685.4,732.6 L1686.9,738.6 L1688.3,735.0 L1689.7,756.9 L1691.0,768.1 L1692.4,789.3 L1697.6,705.5 L1698.9,700.9 L1700.2,689.5 L1701.5,688.9 L1702.8,681.0 L1704.2,693.7 L1705.6,697.1 L1707.0,708.6 L1708.5,708.6 L1710.0,792.0 L1711.5,723.4 L1713.1,721.7 L1714.7,727.3 L1716.2,721.8 L1717.8,723.4 L1719.4,734.6 L1720.9,735.9 L1722.5,744.3 L1723.8,748.9 L1725.0,765.4 L1726.3,771.0 L1728.7,721.0 L1730.2,728.2 L1731.8,739.7 L1733.2,733.4 L1734.5,739.2 L1735.8,729.9 L1737.2,732.0 L1738.5,750.0 L1739.7,756.2 L1741.0,773.4 L1742.3,770.8 L1743.7,759.8 L1745.0,759.6 L1746.4,746.9 L1747.7,747.4 L1749.1,733.8 L1750.4,732.0 L1757.4,792.0 L1765.1,719.5 L1766.5,720.2 L1767.8,730.9 L1769.2,730.8 L1770.6,739.7 L1772.1,735.5 L1773.6,722.1 L1775.0,721.8 L1776.5,707.5 L1778.0,703.5 L1779.9,771.0 L1781.5,759.3 L1783.0,744.0 L1784.3,762.4 L1785.6,772.9 L1786.9,792.0 L1788.2,778.0 L1789.6,769.4 L1791.0,751.2 L1792.3,741.2 L1793.9,740.4 L1795.4,749.6 L1797.0,749.0 L1798.5,762.0 L1800.0,771.0 L1801.6,721.0 L1803.2,732.1 L1804.7,739.7 L1807.0,771.0 L1808.3,760.8 L1809.6,739.5 L1810.9,728.8 L1812.4,730.2 L1813.8,722.4 L1815.3,726.1 L1816.7,717.5 L1818.2,719.5 L1820.2,742.8 L1821.5,752.4 L1822.7,752.1 L1824.0,760.0 L1825.6,781.3 L1827.2,791.3 L1828.8,812.2 L1830.8,668.5 L1832.5,696.4 L1834.2,721.0 L1835.8,721.0 L1837.3,875.0 L1838.8,750.0 L1841.0,750.0 L1842.3,739.9 L1843.6,736.6 L1844.8,724.2 L1846.1,723.7 L1847.4,711.7 L1848.7,719.4 L1850.0,718.3 L1851.3,724.2 L1853.7,724.2 L1855.2,812.2 L1857.0,650.0 L1858.5,642.3 L1860.0,640.0 L1861.5,631.0 L1863.0,616.0 L1864.3,633.7 L1865.5,643.6 L1866.8,662.0 L1868.4,648.7 L1870.0,628.0 L1871.5,649.5 L1873.0,668.0 L1874.5,656.2 L1876.0,651.0 L1877.3,666.7 L1878.7,675.5 L1880.0,690.0 L1882.3,677.6 L1883.9,685.3 L1885.4,699.8 L1887.0,708.0 L1888.5,698.3 L1890.0,693.0 L1891.2,696.1 L1892.5,711.3 L1893.8,713.1 L1895.0,722.0 L1897.0,705.0" stroke-width="3.2"/>
<path d="M324.3,279.0 L324.3,330.0" stroke-width="4.8"/>
<path d="M324.3,300.4 L324.3,330.0" stroke-width="7.0"/>
<path d="M368.4,311.5 L368.4,366.0" stroke-width="4.8"/>
<path d="M368.4,334.4 L368.4,366.0" stroke-width="7.0"/>
<path d="M414.9,352.0 L414.9,408.0" stroke-width="4.8"/>
<path d="M414.9,375.5 L414.9,408.0" stroke-width="7.0"/>
<path d="M462.2,352.0 L462.2,433.0" stroke-width="4.8"/>
<path d="M462.2,386.0 L462.2,433.0" stroke-width="7.0"/>
<path d="M593.6,364.5 L593.6,492.0" stroke-width="4.8"/>
<path d="M593.6,418.1 L593.6,492.0" stroke-width="7.0"/>
<path d="M654.7,437.8 L654.7,509.3" stroke-width="4.8"/>
<path d="M654.7,467.8 L654.7,509.3" stroke-width="7.0"/>
<path d="M677.0,375.0 L677.0,518.6" stroke-width="4.8"/>
<path d="M677.0,435.3 L677.0,518.6" stroke-width="7.0"/>
<path d="M719.5,411.3 L719.5,531.0" stroke-width="4.8"/>
<path d="M719.5,461.6 L719.5,531.0" stroke-width="7.0"/>
<path d="M927.8,484.0 L927.8,578.0" stroke-width="4.8"/>
<path d="M927.8,523.5 L927.8,578.0" stroke-width="7.0"/>
<path d="M973.8,520.5 L973.8,594.3" stroke-width="4.8"/>
<path d="M973.8,551.5 L973.8,594.3" stroke-width="7.0"/>
<path d="M981.8,565.5 L981.8,596.6" stroke-width="4.8"/>
<path d="M981.8,578.6 L981.8,596.6" stroke-width="7.0"/>
<path d="M1080.4,581.8 L1080.4,617.2" stroke-width="4.8"/>
<path d="M1080.4,596.7 L1080.4,617.2" stroke-width="7.0"/>
<path d="M1099.5,482.0 L1099.5,598.0" stroke-width="4.8"/>
<path d="M1099.5,530.7 L1099.5,598.0" stroke-width="7.0"/>
<path d="M1166.0,585.2 L1166.0,616.2" stroke-width="4.8"/>
<path d="M1166.0,598.2 L1166.0,616.2" stroke-width="7.0"/>
<path d="M1189.8,641.0 L1189.8,600.0" stroke-width="4.4"/>
<path d="M1198.3,547.5 L1198.3,625.5" stroke-width="4.8"/>
<path d="M1198.3,580.3 L1198.3,625.5" stroke-width="7.0"/>
<path d="M1287.2,617.8 L1287.2,655.0" stroke-width="4.8"/>
<path d="M1287.2,633.4 L1287.2,655.0" stroke-width="7.0"/>
<path d="M1314.2,585.5 L1314.2,656.6" stroke-width="4.8"/>
<path d="M1314.2,615.4 L1314.2,656.6" stroke-width="7.0"/>
<path d="M1320.9,625.5 L1320.9,656.6" stroke-width="4.8"/>
<path d="M1320.9,638.6 L1320.9,656.6" stroke-width="7.0"/>
<path d="M1338.0,617.8 L1338.0,659.7" stroke-width="4.8"/>
<path d="M1338.0,635.4 L1338.0,659.7" stroke-width="7.0"/>
<path d="M1360.5,613.9 L1360.5,659.7" stroke-width="4.8"/>
<path d="M1360.5,633.1 L1360.5,659.7" stroke-width="7.0"/>
<path d="M1383.0,364.0 L1383.0,672.1" stroke-width="4.8"/>
<path d="M1383.0,493.4 L1383.0,672.1" stroke-width="7.0"/>
<path d="M1393.2,714.5 L1393.2,672.1" stroke-width="4.4"/>
<path d="M1422.5,637.0 L1422.5,684.9" stroke-width="4.8"/>
<path d="M1422.5,657.1 L1422.5,684.9" stroke-width="7.0"/>
<path d="M1436.5,652.3 L1436.5,698.8" stroke-width="4.8"/>
<path d="M1436.5,671.8 L1436.5,698.8" stroke-width="7.0"/>
<path d="M1470.9,660.8 L1470.9,692.6" stroke-width="4.8"/>
<path d="M1470.9,674.2 L1470.9,692.6" stroke-width="7.0"/>
<path d="M1493.0,617.0 L1493.0,714.3" stroke-width="4.8"/>
<path d="M1493.0,657.9 L1493.0,714.3" stroke-width="7.0"/>
<path d="M1511.7,672.4 L1511.7,714.3" stroke-width="4.8"/>
<path d="M1511.7,690.0 L1511.7,714.3" stroke-width="7.0"/>
<path d="M1521.8,669.3 L1521.8,731.4" stroke-width="4.8"/>
<path d="M1521.8,695.4 L1521.8,731.4" stroke-width="7.0"/>
<path d="M1531.9,773.3 L1531.9,731.4" stroke-width="4.4"/>
<path d="M1534.3,695.7 L1534.3,731.4" stroke-width="4.8"/>
<path d="M1534.3,710.7 L1534.3,731.4" stroke-width="7.0"/>
<path d="M1549.0,673.2 L1549.0,719.0" stroke-width="4.8"/>
<path d="M1549.0,692.4 L1549.0,719.0" stroke-width="7.0"/>
<path d="M1556.0,747.0 L1556.0,693.4" stroke-width="4.4"/>
<path d="M1581.6,703.5 L1581.6,742.3" stroke-width="4.8"/>
<path d="M1581.6,719.8 L1581.6,742.3" stroke-width="7.0"/>
<path d="M1590.9,706.6 L1590.9,742.3" stroke-width="4.8"/>
<path d="M1590.9,721.6 L1590.9,742.3" stroke-width="7.0"/>
<path d="M1595.6,691.0 L1595.6,742.3" stroke-width="4.8"/>
<path d="M1595.6,712.5 L1595.6,742.3" stroke-width="7.0"/>
<path d="M1601.8,773.3 L1601.8,706.6" stroke-width="4.4"/>
<path d="M1604.9,646.5 L1604.9,756.2" stroke-width="4.8"/>
<path d="M1604.9,692.6 L1604.9,756.2" stroke-width="7.0"/>
<path d="M1611.0,697.3 L1611.0,756.2" stroke-width="4.8"/>
<path d="M1611.0,722.0 L1611.0,756.2" stroke-width="7.0"/>
<path d="M1634.4,527.5 L1634.4,712.0" stroke-width="4.8"/>
<path d="M1634.4,605.0 L1634.4,712.0" stroke-width="7.0"/>
<path d="M1643.5,773.3 L1643.5,722.0" stroke-width="4.4"/>
<path d="M1665.0,693.0 L1665.0,728.8" stroke-width="4.8"/>
<path d="M1665.0,708.0 L1665.0,728.8" stroke-width="7.0"/>
<path d="M1672.2,773.4 L1672.2,735.0" stroke-width="4.4"/>
<path d="M1677.5,703.2 L1677.5,735.0" stroke-width="4.8"/>
<path d="M1677.5,716.6 L1677.5,735.0" stroke-width="7.0"/>
<path d="M1692.4,789.3 L1692.4,735.0" stroke-width="4.4"/>
<path d="M1710.0,792.0 L1710.0,723.4" stroke-width="4.4"/>
<path d="M1750.4,732.0 L1750.4,773.4" stroke-width="4.8"/>
<path d="M1750.4,749.4 L1750.4,773.4" stroke-width="7.0"/>
<path d="M1757.4,792.0 L1757.4,732.0" stroke-width="4.4"/>
<path d="M1778.0,703.5 L1778.0,744.0" stroke-width="4.8"/>
<path d="M1778.0,720.5 L1778.0,744.0" stroke-width="7.0"/>
<path d="M1786.9,792.0 L1786.9,749.0" stroke-width="4.4"/>
<path d="M1818.2,719.5 L1818.2,760.0" stroke-width="4.8"/>
<path d="M1818.2,736.5 L1818.2,760.0" stroke-width="7.0"/>
<path d="M1828.8,812.2 L1828.8,742.8" stroke-width="4.4"/>
<path d="M1830.8,668.5 L1830.8,750.0" stroke-width="4.8"/>
<path d="M1830.8,702.7 L1830.8,750.0" stroke-width="7.0"/>
<path d="M1837.3,875.0 L1837.3,750.0" stroke-width="4.4"/>
<path d="M1847.4,711.7 L1847.4,750.0" stroke-width="4.8"/>
<path d="M1847.4,727.8 L1847.4,750.0" stroke-width="7.0"/>
<path d="M1855.2,812.2 L1855.2,662.0" stroke-width="4.4"/>
<path d="M1863.0,616.0 L1863.0,662.0" stroke-width="4.8"/>
<path d="M1863.0,635.3 L1863.0,662.0" stroke-width="7.0"/>
</g>
<polygon points="188.0,240.0 189.9,238.6 191.8,212.4 196.4,207.2 198.6,248.5 195.5,248.5 193.4,236.0 191.5,247.0 188.0,247.0" fill="#000"/>
<polygon points="1857.0,650.0 1859.5,632.0 1862.2,615.3 1864.8,615.8 1866.8,621.5 1870.0,622.5 1872.5,637.0 1876.0,649.0 1880.0,653.0 1884.0,659.0 1888.0,670.0 1892.0,683.0 1895.5,694.0 1895.5,724.0 1891.0,705.0 1886.5,691.0 1882.3,681.0 1878.0,672.0 1874.0,667.5 1870.0,664.0 1867.0,662.5 1865.0,649.0 1863.0,641.0 1860.5,655.0 1857.0,668.0" fill="#000"/>
<rect x="239" y="256" width="10.5" height="38" fill="#000"/>
<g fill="#000">
<rect x="181.5" y="8" width="5.5" height="960.5"/>
<rect x="181.8" y="961" width="1718.5" height="7.5"/>
<rect x="1894.1" y="8" width="6.2" height="960.5"/>
<rect x="181.8" y="8" width="37.2" height="8"/>
<rect x="321.2" y="8" width="49.8" height="8"/>
<rect x="569.7" y="8" width="34.0" height="8"/>
<rect x="702.8" y="8" width="14.0" height="8"/>
<rect x="821.5" y="8" width="1078.8" height="8"/>
</g>
<g fill="#000">
<rect x="185" y="21.9" width="21.3" height="6.2"/>
<rect x="185" y="34.3" width="21.3" height="6.2"/>
<rect x="185" y="48.3" width="21.3" height="6.2"/>
<rect x="185" y="62.5" width="21.3" height="6.2"/>
<rect x="185" y="83.3" width="21.3" height="6.2"/>
<rect x="185" y="105.1" width="21.3" height="6.2"/>
<rect x="185" y="134.8" width="21.3" height="6.2"/>
<rect x="185" y="176.3" width="21.3" height="6.2"/>
<rect x="185" y="259.7" width="21.3" height="6.2"/>
<rect x="185" y="272.1" width="21.3" height="6.2"/>
<rect x="185" y="287.5" width="21.3" height="6.2"/>
<rect x="185" y="302.2" width="21.3" height="6.2"/>
<rect x="185" y="321.3" width="21.3" height="6.2"/>
<rect x="185" y="343.3" width="21.3" height="6.2"/>
<rect x="185" y="373.0" width="21.3" height="6.2"/>
<rect x="185" y="415.1" width="21.3" height="6.2"/>
<rect x="185" y="498.4" width="21.3" height="6.2"/>
<rect x="185" y="511.4" width="21.3" height="6.2"/>
<rect x="185" y="525.2" width="21.3" height="6.2"/>
<rect x="185" y="540.9" width="21.3" height="6.2"/>
<rect x="185" y="559.6" width="21.3" height="6.2"/>
<rect x="185" y="582.2" width="21.3" height="6.2"/>
<rect x="185" y="611.5" width="21.3" height="6.2"/>
<rect x="185" y="651.9" width="21.3" height="6.2"/>
<rect x="185" y="732.4" width="21.3" height="6.2"/>
<rect x="185" y="743.7" width="21.3" height="6.2"/>
<rect x="185" y="756.5" width="21.3" height="6.2"/>
<rect x="185" y="771.2" width="21.3" height="6.2"/>
<rect x="185" y="788.4" width="21.3" height="6.2"/>
<rect x="185" y="807.9" width="21.3" height="6.2"/>
<rect x="185" y="834.9" width="21.3" height="6.2"/>
<rect x="185" y="868.6" width="21.3" height="6.2"/>
<rect x="185" y="923.5" width="21.3" height="6.2"/>
<rect x="185" y="247.4" width="42.0" height="6.8"/>
<rect x="185" y="485.9" width="42.0" height="6.8"/>
<rect x="185" y="721.2" width="42.0" height="6.8"/>
<rect x="1872.6" y="22.1" width="24.4" height="5.8"/>
<rect x="1872.6" y="34.5" width="24.4" height="5.8"/>
<rect x="1872.6" y="48.5" width="24.4" height="5.8"/>
<rect x="1872.6" y="62.7" width="24.4" height="5.8"/>
<rect x="1872.6" y="83.5" width="24.4" height="5.8"/>
<rect x="1872.6" y="105.3" width="24.4" height="5.8"/>
<rect x="1872.6" y="135.0" width="24.4" height="5.8"/>
<rect x="1872.6" y="176.5" width="24.4" height="5.8"/>
<rect x="1872.6" y="259.9" width="24.4" height="5.8"/>
<rect x="1872.6" y="272.3" width="24.4" height="5.8"/>
<rect x="1872.6" y="287.7" width="24.4" height="5.8"/>
<rect x="1872.6" y="302.4" width="24.4" height="5.8"/>
<rect x="1872.6" y="321.5" width="24.4" height="5.8"/>
<rect x="1872.6" y="343.5" width="24.4" height="5.8"/>
<rect x="1872.6" y="373.2" width="24.4" height="5.8"/>
<rect x="1872.6" y="415.3" width="24.4" height="5.8"/>
<rect x="1872.6" y="498.6" width="24.4" height="5.8"/>
<rect x="1872.6" y="511.6" width="24.4" height="5.8"/>
<rect x="1872.6" y="525.4" width="24.4" height="5.8"/>
<rect x="1872.6" y="541.1" width="24.4" height="5.8"/>
<rect x="1872.6" y="559.8" width="24.4" height="5.8"/>
<rect x="1872.6" y="582.4" width="24.4" height="5.8"/>
<rect x="1872.6" y="611.7" width="24.4" height="5.8"/>
<rect x="1872.6" y="652.1" width="24.4" height="5.8"/>
<rect x="1872.6" y="732.6" width="24.4" height="5.8"/>
<rect x="1872.6" y="743.9" width="24.4" height="5.8"/>
<rect x="1872.6" y="756.7" width="24.4" height="5.8"/>
<rect x="1872.6" y="771.4" width="24.4" height="5.8"/>
<rect x="1872.6" y="788.6" width="24.4" height="5.8"/>
<rect x="1872.6" y="808.1" width="24.4" height="5.8"/>
<rect x="1872.6" y="835.1" width="24.4" height="5.8"/>
<rect x="1872.6" y="868.8" width="24.4" height="5.8"/>
<rect x="1872.6" y="923.7" width="24.4" height="5.8"/>
<rect x="1852.6" y="247.4" width="44.4" height="6.8"/>
<rect x="1852.6" y="485.9" width="44.4" height="6.8"/>
<rect x="1852.6" y="721.2" width="44.4" height="6.8"/>
<rect x="397.1" y="942.3" width="4.6" height="19.7"/>
<rect x="825.0" y="942.3" width="4.6" height="19.7"/>
<rect x="825.0" y="15" width="4.6" height="21.5"/>
<rect x="1252.5" y="942.3" width="4.6" height="19.7"/>
<rect x="1252.5" y="15" width="4.6" height="21.5"/>
<rect x="1679.9" y="942.3" width="4.6" height="19.7"/>
<rect x="1679.9" y="15" width="4.6" height="21.5"/>
<rect x="609.6" y="918.0" width="6.0" height="44.0"/>
<rect x="1038.8" y="918.0" width="6.0" height="44.0"/>
<rect x="1038.7" y="15" width="6.2" height="47.0"/>
<rect x="1466.3" y="918.0" width="6.0" height="44.0"/>
<rect x="1466.2" y="15" width="6.2" height="47.0"/>
</g>
<g>
<polygon points="334.7,32.7 345.3,32.7 345.3,172.1 356.0,172.1 340.0,203.5 324.0,172.1 334.7,172.1" fill="#9c9c9c"/>
<polygon points="455.9,237.0 466.3,237.0 468.6,272.5 479.0,272.1 464.8,306.1 447.6,273.4 458.3,273.2" fill="#9c9c9c"/>
<polygon points="569.0,201.1 569.8,201.1 579.2,286.0 590.0,285.2 577.9,319.2 558.6,288.9 568.5,287.7" fill="#9c9c9c"/>
<polygon points="644.2,216.8 656.9,216.8 675.0,288.9 685.3,285.9 678.7,321.0 654.4,294.5 664.7,291.5" fill="#9c9c9c"/>
<polygon points="724.5,189.3 735.1,189.3 735.1,328.9 745.8,328.9 729.8,360.3 713.8,328.9 724.5,328.9" fill="#9c9c9c"/>
<polygon points="918.3,235.0 928.9,235.0 928.9,374.3 939.6,374.3 923.6,405.7 907.6,374.3 918.3,374.3" fill="#9c9c9c"/>
<polygon points="1297.3,344.2 1307.9,344.2 1307.9,466.4 1318.6,466.4 1302.6,497.7 1286.6,466.4 1297.3,466.4" fill="#9c9c9c"/>
<polygon points="1343.4,111.6 1354.0,111.6 1354.0,251.5 1364.7,251.5 1348.7,282.7 1332.7,251.5 1343.4,251.5" fill="#9c9c9c"/>
<polygon points="1582.7,245.2 1593.3,245.2 1593.3,384.9 1604.0,384.9 1588.0,416.4 1572.0,384.9 1582.7,384.9" fill="#9c9c9c"/>
<polygon points="334.7,25.5 345.3,25.5 345.3,164.9 356.0,164.9 340.0,196.3 324.0,164.9 334.7,164.9" fill="#0070c0"/>
<polygon points="455.9,229.8 466.3,229.8 468.6,265.3 479.0,264.9 464.8,298.9 447.6,266.2 458.3,266.0" fill="#0070c0"/>
<polygon points="569.0,193.9 569.8,193.9 579.2,278.8 590.0,278.0 577.9,312.0 558.6,281.7 568.5,280.5" fill="#0070c0"/>
<polygon points="644.2,209.6 656.9,209.6 675.0,281.7 685.3,278.7 678.7,313.8 654.4,287.3 664.7,284.3" fill="#0070c0"/>
<polygon points="724.5,182.1 735.1,182.1 735.1,321.7 745.8,321.7 729.8,353.1 713.8,321.7 724.5,321.7" fill="#0070c0"/>
<polygon points="918.3,227.8 928.9,227.8 928.9,367.1 939.6,367.1 923.6,398.5 907.6,367.1 918.3,367.1" fill="#0070c0"/>
<polygon points="1297.3,337.0 1307.9,337.0 1307.9,459.2 1318.6,459.2 1302.6,490.5 1286.6,459.2 1297.3,459.2" fill="#0070c0"/>
<polygon points="1343.4,104.4 1354.0,104.4 1354.0,244.3 1364.7,244.3 1348.7,275.5 1332.7,244.3 1343.4,244.3" fill="#0070c0"/>
<polygon points="1582.7,238.0 1593.3,238.0 1593.3,377.7 1604.0,377.7 1588.0,409.2 1572.0,377.7 1582.7,377.7" fill="#0070c0"/>
</g>
<text transform="translate(270.80,190.61) rotate(-90) scale(1,1.0049)" font-size="21.30"><tspan class="s" stroke="#000" stroke-width="0.25">226</tspan></text>
<text transform="translate(280.80,157.90) rotate(-90) scale(1,1.2076)" font-size="28.40"><tspan class="s" stroke="#000" stroke-width="0.25">Ra</tspan></text>
<text transform="translate(280.80,122.82) rotate(-90) scale(1,0.9321)" font-size="36.47"><tspan class="s" stroke="#000" stroke-width="0.25">186</tspan></text>
<text transform="translate(424.85,215.86) rotate(-90) scale(1,1.0056)" font-size="24.86"><tspan class="s" stroke="#000" stroke-width="0.25">214</tspan></text>
<text transform="translate(436.60,177.35) rotate(-90) scale(1,1.0083)" font-size="37.39"><tspan class="s" stroke="#000" stroke-width="0.25">Pb (295)</tspan></text>
<text transform="translate(522.55,258.16) rotate(-90) scale(1,1.0056)" font-size="24.86"><tspan class="s" stroke="#000" stroke-width="0.25">214</tspan></text>
<text transform="translate(534.30,220.56) rotate(-90) scale(1,1.0068)" font-size="37.44"><tspan class="s" stroke="#000" stroke-width="0.25">Pb</tspan><tspan class="r" stroke="#000" stroke-width="0.95"> (352)</tspan></text>
<text transform="translate(657.65,193.03) rotate(-90) scale(1,0.9425)" font-size="26.53"><tspan class="s" stroke="#000" stroke-width="0.25">208</tspan></text>
<text transform="translate(670.00,152.84) rotate(-90) scale(1,1.0393)" font-size="36.28"><tspan class="s" stroke="#000" stroke-width="0.25">Tl (583)</tspan></text>
<text transform="translate(771.15,312.99) rotate(-90) scale(1,0.9756)" font-size="25.62"><tspan class="s" stroke="#000" stroke-width="0.25">214</tspan></text>
<text transform="translate(782.60,272.93) rotate(-90) scale(1,1.0393)" font-size="36.27"><tspan class="s" stroke="#000" stroke-width="0.25">Bi (609)</tspan></text>
<text transform="translate(864.75,304.66) rotate(-90) scale(1,1.0064)" font-size="24.84"><tspan class="s" stroke="#000" stroke-width="0.25">228</tspan></text>
<text transform="translate(876.80,264.88) rotate(-90) scale(1,0.9947)" font-size="37.90"><tspan class="s" stroke="#000" stroke-width="0.25">Ac (911)</tspan></text>
<text transform="translate(1257.85,320.47) rotate(-90) scale(1,0.9890)" font-size="25.28"><tspan class="s" stroke="#000" stroke-width="0.25">214</tspan></text>
<text transform="translate(1270.50,280.75) rotate(-90) scale(1,1.0223)" font-size="36.88"><tspan class="s" stroke="#000" stroke-width="0.25">Bi (1120)</tspan></text>
<text transform="translate(1386.95,275.26) rotate(-90) scale(1,1.1875)" font-size="21.05"><tspan class="s" stroke="#000" stroke-width="0.25">40</tspan></text>
<text transform="translate(1398.10,252.86) rotate(-90) scale(1,1.0055)" font-size="37.49"><tspan class="s" stroke="#000" stroke-width="0.25">K (1460)</tspan></text>
<text transform="translate(1632.65,454.07) rotate(-90) scale(1,0.9972)" font-size="25.07"><tspan class="s" stroke="#000" stroke-width="0.25">214</tspan></text>
<text transform="translate(1644.90,415.35) rotate(-90) scale(1,1.0211)" font-size="36.92"><tspan class="s" stroke="#000" stroke-width="0.25">Bi (1764)</tspan></text>
<text class="a" x="178.5" y="26.6" font-size="39" text-anchor="end" textLength="58.0" lengthAdjust="spacingAndGlyphs" stroke="#000" stroke-width="1.3">10000</text>
<text class="a" x="178.5" y="264.8" font-size="39" text-anchor="end" textLength="47.0" lengthAdjust="spacingAndGlyphs" stroke="#000" stroke-width="1.3">1000</text>
<text class="a" x="178.5" y="503.3" font-size="39" text-anchor="end" textLength="35.2" lengthAdjust="spacingAndGlyphs" stroke="#000" stroke-width="1.3">100</text>
<text class="a" x="178.5" y="736.3" font-size="39" text-anchor="end" textLength="22.8" lengthAdjust="spacingAndGlyphs" stroke="#000" stroke-width="1.3">10</text>
<text class="a" x="185.5" y="997.2" font-size="37.5" text-anchor="middle" textLength="51.0" lengthAdjust="spacingAndGlyphs" stroke="#000" stroke-width="1.3">15.00</text>
<text class="a" x="610.8" y="997.2" font-size="37.5" text-anchor="middle" textLength="64.0" lengthAdjust="spacingAndGlyphs" stroke="#000" stroke-width="1.3">532.00</text>
<text class="a" x="1041.0" y="997.2" font-size="37.5" text-anchor="middle" textLength="75.0" lengthAdjust="spacingAndGlyphs" stroke="#000" stroke-width="1.3">1047.00</text>
<text class="a" x="1468.9" y="997.2" font-size="37.5" text-anchor="middle" textLength="76.0" lengthAdjust="spacingAndGlyphs" stroke="#000" stroke-width="1.3">1563.00</text>
<text class="a" x="1894.8" y="997.2" font-size="37.5" text-anchor="middle" textLength="74.0" lengthAdjust="spacingAndGlyphs" stroke="#000" stroke-width="1.3">2078.00</text>
<text class="a" x="1041.0" y="1036.8" font-size="35.5" text-anchor="middle" textLength="133.0" lengthAdjust="spacingAndGlyphs" stroke="#000" stroke-width="1.3">Energy (keV)</text>
<text class="a" transform="translate(22.8,493.6) rotate(-90)" font-size="32" text-anchor="middle" textLength="125.5" lengthAdjust="spacingAndGlyphs" stroke="#000" stroke-width="1.5">Counts</text>
</svg></body></html>
